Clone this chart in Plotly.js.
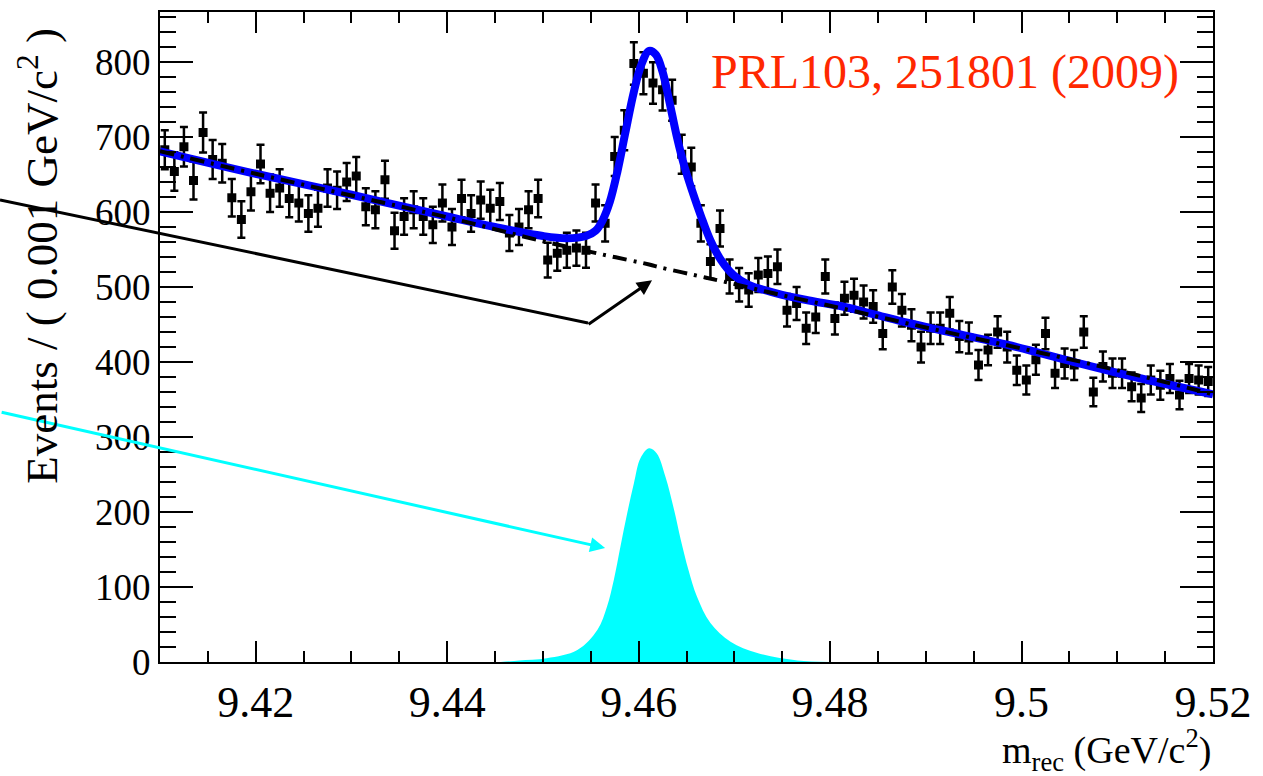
<!DOCTYPE html>
<html>
<head>
<meta charset="utf-8">
<script src="https://cdn.plot.ly/plotly-3.0.1.min.js"></script>
<style>html,body{margin:0;padding:0;background:#fff;}#chart{width:1263px;height:776px;}</style>
</head>
<body>
<div id="chart"></div>
<script>
// Data: events per 0.001 GeV/c^2 bin, first bin centre 9.4105
const binStart = 9.4105;
const binWidth = 0.001;
const events = [
  683, 654, 687, 642, 706, 670, 665, 619, 590, 627,
  664, 625, 632, 618, 612, 598, 605, 632, 629, 640,
  648, 607, 603, 643, 575, 594, 603, 594, 583, 612,
  580, 618, 598, 616, 605, 614, 572, 580, 603, 618,
  536, 545, 549, 552, 549, 612, 585, 674, 709, 798,
  785, 772, 763, 749, 677, 660, 585, 534, 578, 514,
  503, 496, 516, 518, 527, 469, 478, 445, 460, 514,
  458, 485, 489, 480, 474, 438, 500, 469, 449, 420,
  445, 445, 465, 434, 432, 396, 416, 440, 420, 389,
  376, 403, 438, 385, 398, 396, 440, 360, 394, 385,
  385, 367, 352, 376, 369, 378, 356, 378, 376, 374
];

// Total fit (blue)
const fitX = [9.4100, 9.4200, 9.4300, 9.4400, 9.4450, 9.4500, 9.4525, 9.4545, 9.4555, 9.4562,
              9.4570, 9.4578, 9.4586, 9.4595, 9.4603, 9.4611, 9.4618, 9.4625, 9.4632, 9.4640,
              9.4648, 9.4656, 9.4665, 9.4675, 9.4686, 9.4699, 9.4715, 9.4743, 9.4778, 9.4813,
              9.4848, 9.4882, 9.4917, 9.4985, 9.5055, 9.5125, 9.5200];
const fitY = [681, 651, 623, 594, 580, 568, 565, 568, 575, 588,
              614, 655, 705, 760, 797, 815, 810, 787, 748, 700,
              660, 628, 595, 562, 536, 516, 503, 492, 482, 474,
              463, 452, 442, 423, 400, 378, 357];

// Background (dash-dot)
const bkgX = [9.410, 9.420, 9.430, 9.440, 9.450, 9.456, 9.4611, 9.4623, 9.4658, 9.4693,
              9.4743, 9.480, 9.490, 9.500, 9.510, 9.520];
const bkgY = [681, 651, 622, 593, 561, 544, 530, 526, 516, 506,
              491, 475, 446, 418, 389, 357];

// Signal (cyan filled)
const sigX = [9.4456, 9.4475, 9.4504, 9.4536, 9.4557, 9.4567, 9.4574, 9.4581, 9.4588, 9.4595,
              9.4602, 9.4611, 9.4619, 9.4628, 9.4637, 9.4644, 9.4652, 9.4661, 9.4675, 9.4696,
              9.4724, 9.4766, 9.4800];
const sigY = [0, 2, 5, 16, 43, 74, 109, 154, 198, 238,
              272, 285, 278, 247, 203, 163, 123, 87, 52, 27,
              12, 2, 0];

const xTickVals = [9.42, 9.44, 9.46, 9.48, 9.5, 9.52];
const xTickText = ['9.42', '9.44', '9.46', '9.48', '9.5', '9.52'];
const yTickVals = [0, 100, 200, 300, 400, 500, 600, 700, 800];

const serif = 'Liberation Serif, Times New Roman, serif';

const traces = [
  {x: sigX, y: sigY, type: 'scatter', mode: 'lines', fill: 'tozeroy',
   fillcolor: 'rgb(0,255,255)', line: {width: 0, shape: 'spline', color: 'rgb(0,255,255)'},
   hoverinfo: 'skip', showlegend: false},
  {x0: binStart, dx: binWidth, y: events, type: 'scatter', mode: 'markers',
   marker: {symbol: 'square', size: 9, color: 'black'},
   error_y: {type: 'sqrt', color: 'black', thickness: 2.5, width: 4},
   showlegend: false},
  {x: fitX, y: fitY, type: 'scatter', mode: 'lines',
   line: {color: 'rgb(0,0,255)', width: 8, shape: 'spline'}, showlegend: false},
  {x: bkgX, y: bkgY, type: 'scatter', mode: 'lines',
   line: {color: 'black', width: 4, dash: '14px,7px,3px,7px', shape: 'spline'}, showlegend: false},
  // invisible trace carrying the mirrored tick axes (top / right)
  {x: [9.50], y: [100], xaxis: 'x2', yaxis: 'y2', type: 'scatter', mode: 'markers',
   marker: {opacity: 0, size: 1}, hoverinfo: 'skip', showlegend: false}
];

const minorX = {ticks: 'inside', dtick: 0.005, tick0: 9.41, ticklen: 11, tickwidth: 2, tickcolor: 'black', showgrid: false};
const minorY = {ticks: 'inside', dtick: 20, tick0: 0, ticklen: 16, tickwidth: 2, tickcolor: 'black', showgrid: false};

const layout = {
  width: 1263, height: 776, autosize: false,
  margin: {l: 160, r: 50, t: 12, b: 114, pad: 0},
  paper_bgcolor: 'white', plot_bgcolor: 'white',
  font: {family: serif, color: 'black'},
  showlegend: false,
  xaxis: {
    range: [9.41, 9.52], tickvals: xTickVals, ticktext: xTickText,
    ticks: 'inside', ticklen: 21, tickwidth: 2, tickcolor: 'black',
    minor: minorX,
    showline: true, linecolor: 'black', linewidth: 2, mirror: true,
    showgrid: false, zeroline: false,
    tickfont: {family: serif, size: 44, color: 'black'}
  },
  yaxis: {
    range: [0, 866.7], tickvals: yTickVals,
    ticks: 'inside', ticklen: 33, tickwidth: 2, tickcolor: 'black',
    minor: minorY,
    showline: true, linecolor: 'black', linewidth: 2, mirror: true,
    showgrid: false, zeroline: false,
    tickfont: {family: serif, size: 37, color: 'black'}
  },
  xaxis2: {
    overlaying: 'x', side: 'top', anchor: 'y2', range: [9.41, 9.52], tickvals: xTickVals,
    ticks: 'inside', ticklen: 21, tickwidth: 2, tickcolor: 'black', minor: minorX,
    showticklabels: false, showgrid: false, zeroline: false, showline: false
  },
  yaxis2: {
    overlaying: 'y', side: 'right', anchor: 'x2', range: [0, 866.7], tickvals: yTickVals,
    ticks: 'inside', ticklen: 33, tickwidth: 2, tickcolor: 'black', minor: minorY,
    showticklabels: false, showgrid: false, zeroline: false, showline: false
  },
  shapes: [
    {type: 'line', xref: 'paper', yref: 'paper',
     x0: (0 - 160) / 1053, y0: (662 - 200) / 650, x1: (588 - 160) / 1053, y1: (662 - 323) / 650,
     line: {color: 'black', width: 3}}
  ],
  annotations: [
    {x: 9.4614, y: 509, xref: 'x', yref: 'y', text: '', showarrow: true,
     axref: 'pixel', ayref: 'pixel', ax: -65, ay: 45,
     arrowhead: 2, arrowsize: 1, arrowwidth: 3, arrowcolor: 'black'},
    {x: 9.4565, y: 152, xref: 'x', yref: 'y', text: '', showarrow: true,
     axref: 'pixel', ayref: 'pixel', ax: -605, ay: -136,
     arrowhead: 2, arrowsize: 1, arrowwidth: 3, arrowcolor: 'rgb(0,255,255)'},
    {x: 9.4673, y: 787, xref: 'x', yref: 'y', xanchor: 'left', yanchor: 'middle',
     text: 'PRL103, 251801 (2009)', showarrow: false,
     font: {family: serif, size: 48, color: 'rgb(255,40,0)'}},
    {x: 1, y: -0.135, xref: 'paper', yref: 'paper', xanchor: 'right', yanchor: 'middle',
     text: 'm<sub>rec</sub> (GeV/c<sup>2</sup>)', showarrow: false,
     font: {family: serif, size: 38, color: 'black'}},
    {x: -0.115, y: 0.625, xref: 'paper', yref: 'paper', xanchor: 'center', yanchor: 'middle',
     text: 'Events / ( 0.001 GeV/c<sup>2</sup> )', showarrow: false, textangle: -90,
     font: {family: serif, size: 45, color: 'black'}}
  ]
};

Plotly.newPlot('chart', traces, layout, {staticPlot: true, displayModeBar: false});
</script>
</body>
</html>
